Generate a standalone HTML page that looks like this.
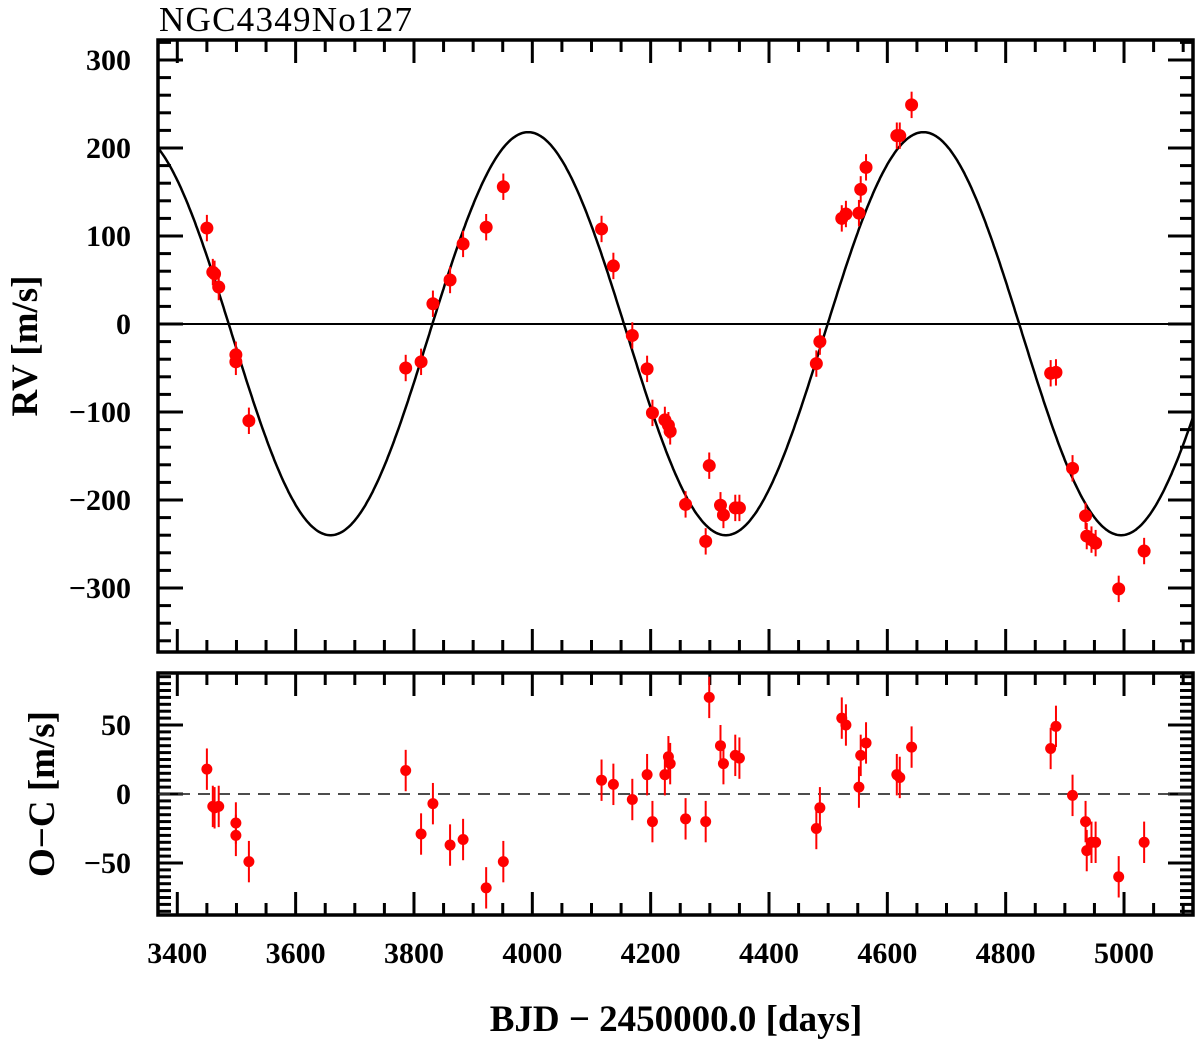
<!DOCTYPE html>
<html><head><meta charset="utf-8"><style>
html,body{margin:0;padding:0;background:#fff;}
svg{display:block;font-family:"Liberation Serif",serif;}
</style></head><body>
<svg id="chart" width="1200" height="1043" viewBox="0 0 1200 1043" xmlns="http://www.w3.org/2000/svg">
<text x="159" y="31" font-size="35" textLength="253">NGC4349No127</text>
<text transform="translate(37,346) rotate(-90)" text-anchor="middle" font-size="37" font-weight="bold">RV [m/s]</text>
<text transform="translate(54,794) rotate(-90)" text-anchor="middle" font-size="37" font-weight="bold">O−C [m/s]</text>
<text x="676" y="1031" text-anchor="middle" font-size="37" font-weight="bold">BJD − 2450000.0 [days]</text>
<g id="g"></g>
</svg>
<script>
const times=[3450,3460,3463,3470,3499,3499,3521,3786,3812,3832,3861,3883,3922,3951,4117,4137,4169,4194,4203,4224,4230,4233,4259,4293,4299,4318,4323,4343,4350,4480,4486,4523,4530,4552,4555,4564,4616,4621,4641,4876,4885,4913,4935,4937,4945,4952,4991,5034];
const rvValues=[109,59,57,42,-35,-43,-110,-50,-43,23,50,91,110,156,108,66,-13,-51,-101,-109,-115,-122,-205,-247,-161,-206,-217,-209,-209,-45,-20,120,125,126,153,178,214,214,249,-56,-55,-164,-218,-241,-245,-249,-301,-258];
const residuals=[18,-9,-10,-9,-21,-30,-49,17,-29,-7,-37,-33,-68,-49,10,7,-4,14,-20,14,27,22,-18,-20,70,35,22,28,26,-25,-10,55,50,5,28,37,14,12,34,33,49,-1,-20,-41,-35,-35,-60,-35];
const rvErr=15, resErr=15;
const modelK=229, modelOffset=-11, modelPeriod=668, modelTpeak=3993;
const xTicks=[3400,3600,3800,4000,4200,4400,4600,4800,5000];
const rvTicks=[-300,-200,-100,0,100,200,300];
const resTicks=[-50,0,50];

const NS='http://www.w3.org/2000/svg';
const g=document.getElementById('g');
const L=158,R=1193;
const xs=t=>177.3+(t-3400)*0.5917;
const T1=40,B1=652,ys1=v=>324-v*0.88;
const T2=673,B2=915,ys2=v=>794-v*1.38;
function el(tag,attrs,parent){const e=document.createElementNS(NS,tag);for(const k in attrs)e.setAttribute(k,attrs[k]);(parent||g).appendChild(e);return e;}
function line(x1,y1,x2,y2,w,c,extra){return el('line',Object.assign({x1,y1,x2,y2,stroke:c||'#000','stroke-width':w},extra||{}));}

function panel(T,B,ys,yMin,yMax,minorStep,majorStep,name){
  const grp=el('g',{});
  
  
  for(let t=3350;t<=5150;t+=50){const x=xs(t);if(x<L+2||x>R-2)continue;const maj=t%200===0;const len=maj?23:12;
    el('line',{x1:x,y1:T,x2:x,y2:T+len,stroke:'#000','stroke-width':3},grp);
    el('line',{x1:x,y1:B,x2:x,y2:B-len,stroke:'#000','stroke-width':3},grp);}
  for(let v=Math.ceil(yMin/minorStep)*minorStep;v<=yMax;v+=minorStep){const y=ys(v);if(y<T+2||y>B-2)continue;const maj=Math.abs(v%majorStep)<1e-6;const len=maj?25:13;
    el('line',{x1:L,y1:y,x2:L+len,y2:y,stroke:'#000','stroke-width':3},grp);
    el('line',{x1:R,y1:y,x2:R-len,y2:y,stroke:'#000','stroke-width':3},grp);}
  el('rect',{x:L,y:T,width:R-L,height:B-T,fill:'none',stroke:'#000','stroke-width':3.5},grp);
}
panel(T1,B1,ys1,-372,322,20,100,'rv-panel');
panel(T2,B2,ys2,-87,87,5,50,'residual-panel');

rvTicks.forEach(v=>{const t=el('text',{x:131,y:ys1(v)+10,'text-anchor':'end','font-size':30,'font-weight':'bold'});t.textContent=(v<0?'−':'')+Math.abs(v);

});
resTicks.forEach(v=>{const t=el('text',{x:131,y:ys2(v)+10,'text-anchor':'end','font-size':30,'font-weight':'bold'});t.textContent=(v<0?'−':'')+Math.abs(v);

});
xTicks.forEach(v=>{const t=el('text',{x:xs(v),y:963,'text-anchor':'middle','font-size':30,'font-weight':'bold'});t.textContent=v;

});

const z1=line(L,ys1(0),R,ys1(0),2,'#000');


const z2=line(L,ys2(0),R,ys2(0),1.8,'#333',{'stroke-dasharray':'12,8'});



let d='';
for(let t=3368;t<=5116;t+=2){const v=modelOffset+modelK*Math.cos(2*Math.PI*(t-modelTpeak)/modelPeriod);d+=(d?'L':'M')+xs(t).toFixed(1)+','+ys1(v).toFixed(1);}
const cp=el('path',{d,fill:'none',stroke:'#000','stroke-width':2.5});



times.forEach((t,i)=>{
  const x=xs(t);
  const y=ys1(rvValues[i]);
  line(x,ys1(rvValues[i]+rvErr),x,ys1(rvValues[i]-rvErr),2,'#f00');
  const c=el('circle',{cx:x,cy:y,r:6.5,fill:'#f00'});
  
  
  const y2=ys2(residuals[i]);
  line(x,ys2(residuals[i]+resErr),x,ys2(residuals[i]-resErr),2,'#f00');
  const c2=el('circle',{cx:x,cy:y2,r:5.5,fill:'#f00'});
  
  
});
</script>
</body></html>
